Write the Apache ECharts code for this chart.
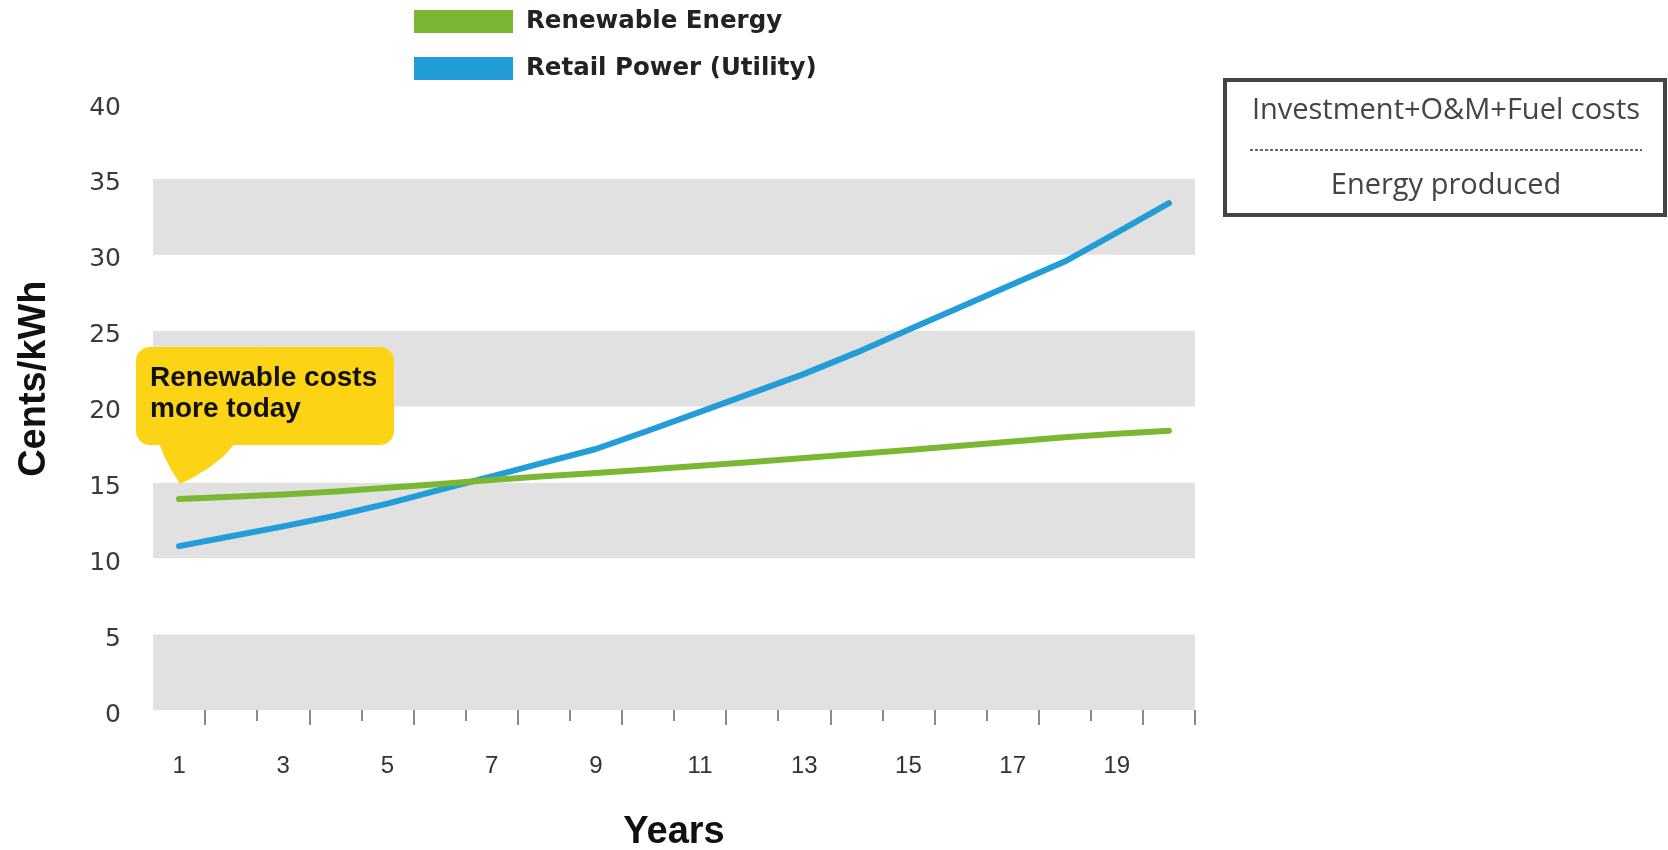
<!DOCTYPE html>
<html>
<head>
<meta charset="utf-8">
<title>Cost of energy over 20 years</title>
<script src="https://cdn.jsdelivr.net/npm/echarts@6/dist/echarts.min.js"></script>
<style>
  html, body { margin: 0; padding: 0; background: #ffffff; }
  #chart { width: 1668px; height: 850px; }
</style>
</head>
<body>
<div id="chart"></div>
<script>
// Years on the horizontal axis
const years = ['1','2','3','4','5','6','7','8','9','10','11','12','13','14','15','16','17','18','19','20'];

// Cost in cents per kWh for each year
const renewableEnergy = [13.9, 14.05, 14.2, 14.4, 14.65, 14.9, 15.15, 15.4, 15.62, 15.85,
                         16.1, 16.35, 16.6, 16.87, 17.14, 17.42, 17.7, 17.97, 18.2, 18.4];
const retailPower = [10.8, 11.45, 12.1, 12.8, 13.6, 14.5, 15.4, 16.3, 17.2, 18.4,
                     19.65, 20.9, 22.15, 23.55, 25.05, 26.55, 28.05, 29.55, 31.45, 33.4];

const seriesNames = ['Renewable Energy', 'Retail Power (Utility)'];
const calloutText = 'Renewable costs\nmore today';
const formulaTop = 'Investment+O&M+Fuel costs';
const formulaBottom = 'Energy produced';

const GREEN = '#7ab834';
const BLUE = '#229dd8';
const YELLOW = '#fdd415';

const chart = echarts.init(document.getElementById('chart'), null, { renderer: 'canvas' });

const baseX = {
  type: 'category',
  data: years,
  boundaryGap: true,
  gridIndex: 0,
  position: 'bottom',
  axisLine: { show: false },
  splitLine: { show: false }
};

chart.setOption({
  animation: false,
  backgroundColor: '#ffffff',
  grid: {
    left: 153, right: 473, top: 103, bottom: 140,
    containLabel: false,
    outerBoundsMode: 'none'
  },
  legend: {
    orient: 'vertical',
    left: 414,
    top: 9,
    padding: 0,
    itemWidth: 99,
    itemHeight: 23,
    itemGap: 22,
    icon: 'rect',
    selectedMode: false,
    data: [
      { name: seriesNames[0], itemStyle: { color: GREEN, borderWidth: 0 } },
      { name: seriesNames[1], itemStyle: { color: BLUE, borderWidth: 0 } }
    ],
    textStyle: {
      fontFamily: 'DejaVu Sans',
      fontWeight: 'bold',
      fontSize: 24.5,
      color: '#222222',
      padding: [0, 0, 0, 8]
    }
  },
  xAxis: [
    Object.assign({}, baseX, {
      axisTick: {
        show: true,
        length: 11,
        interval: function (i) { return i >= 2 && i % 2 === 0; },
        lineStyle: { color: '#8a8a8a', width: 2 }
      },
      axisLabel: {
        interval: 1,
        margin: 44,
        fontFamily: 'Liberation Sans',
        fontSize: 24,
        color: '#333333'
      },
      name: 'Years',
      nameLocation: 'middle',
      nameGap: 104,
      nameTextStyle: {
        fontFamily: 'Liberation Sans',
        fontWeight: 'bold',
        fontSize: 38,
        color: '#111111'
      }
    }),
    Object.assign({}, baseX, {
      axisTick: {
        show: true,
        length: 15,
        interval: function (i) { return i % 2 === 1; },
        lineStyle: { color: '#8a8a8a', width: 2 }
      },
      axisLabel: { show: false }
    })
  ],
  yAxis: {
    type: 'value',
    min: 0,
    max: 40,
    interval: 5,
    axisLine: { show: false },
    axisTick: { show: false },
    splitLine: { show: false },
    splitArea: { show: true, areaStyle: { color: ['#e1e1e1', '#ffffff'] } },
    axisLabel: {
      margin: 32,
      fontFamily: 'DejaVu Sans',
      fontSize: 25,
      color: '#3a3a3a',
      verticalAlign: 'top',
      lineHeight: 10
    },
    name: '{n|Cents/kWh}',
    nameLocation: 'middle',
    nameGap: 99,
    nameTextStyle: {
      rich: {
        n: {
          fontFamily: 'Liberation Sans',
          fontWeight: 'bold',
          fontSize: 38,
          color: '#111111',
          width: 252,
          align: 'right'
        }
      }
    }
  },
  series: [
    {
      name: seriesNames[1],
      type: 'line',
      xAxisIndex: 0,
      data: retailPower,
      symbol: 'none',
      smooth: false,
      itemStyle: { color: BLUE },
      lineStyle: { color: BLUE, width: 6, cap: 'round', join: 'round' },
      z: 2
    },
    {
      name: seriesNames[0],
      type: 'line',
      xAxisIndex: 0,
      data: renewableEnergy,
      symbol: 'none',
      smooth: false,
      itemStyle: { color: GREEN },
      lineStyle: { color: GREEN, width: 6, cap: 'round', join: 'round' },
      z: 3
    }
  ],
  graphic: {
    elements: [
      // yellow speech bubble
      {
        type: 'rect',
        z: 100,
        shape: { x: 136, y: 347, width: 258, height: 98, r: 14 },
        style: { fill: YELLOW }
      },
      {
        type: 'polygon',
        z: 100,
        shape: {
          points: [[158, 440], [164, 456], [172, 471], [180, 484], [194, 477], [210, 467], [224, 456], [238, 440]]
        },
        style: { fill: YELLOW }
      },
      {
        type: 'text',
        z: 101,
        style: {
          x: 150,
          y: 363,
          text: calloutText,
          fontFamily: 'Liberation Sans',
          fontWeight: 'bold',
          fontSize: 28,
          lineHeight: 31,
          fill: '#111111',
          align: 'left',
          verticalAlign: 'top'
        }
      },
      // formula box
      {
        type: 'rect',
        z: 100,
        shape: { x: 1225, y: 80, width: 440, height: 135 },
        style: { fill: '#ffffff', stroke: '#444444', lineWidth: 4 }
      },
      {
        type: 'text',
        z: 101,
        style: {
          x: 1446, y: 111,
          text: formulaTop,
          fontFamily: 'Open Sans',
          fontSize: 29,
          fill: '#444444',
          align: 'center',
          verticalAlign: 'middle'
        }
      },
      {
        type: 'line',
        z: 101,
        shape: { x1: 1250, y1: 150, x2: 1642, y2: 150 },
        style: { stroke: '#333333', lineWidth: 1.5, lineDash: [3, 2] }
      },
      {
        type: 'text',
        z: 101,
        style: {
          x: 1446, y: 186,
          text: formulaBottom,
          fontFamily: 'Open Sans',
          fontSize: 29,
          fill: '#444444',
          align: 'center',
          verticalAlign: 'middle'
        }
      }
    ]
  }
});
</script>
</body>
</html>
